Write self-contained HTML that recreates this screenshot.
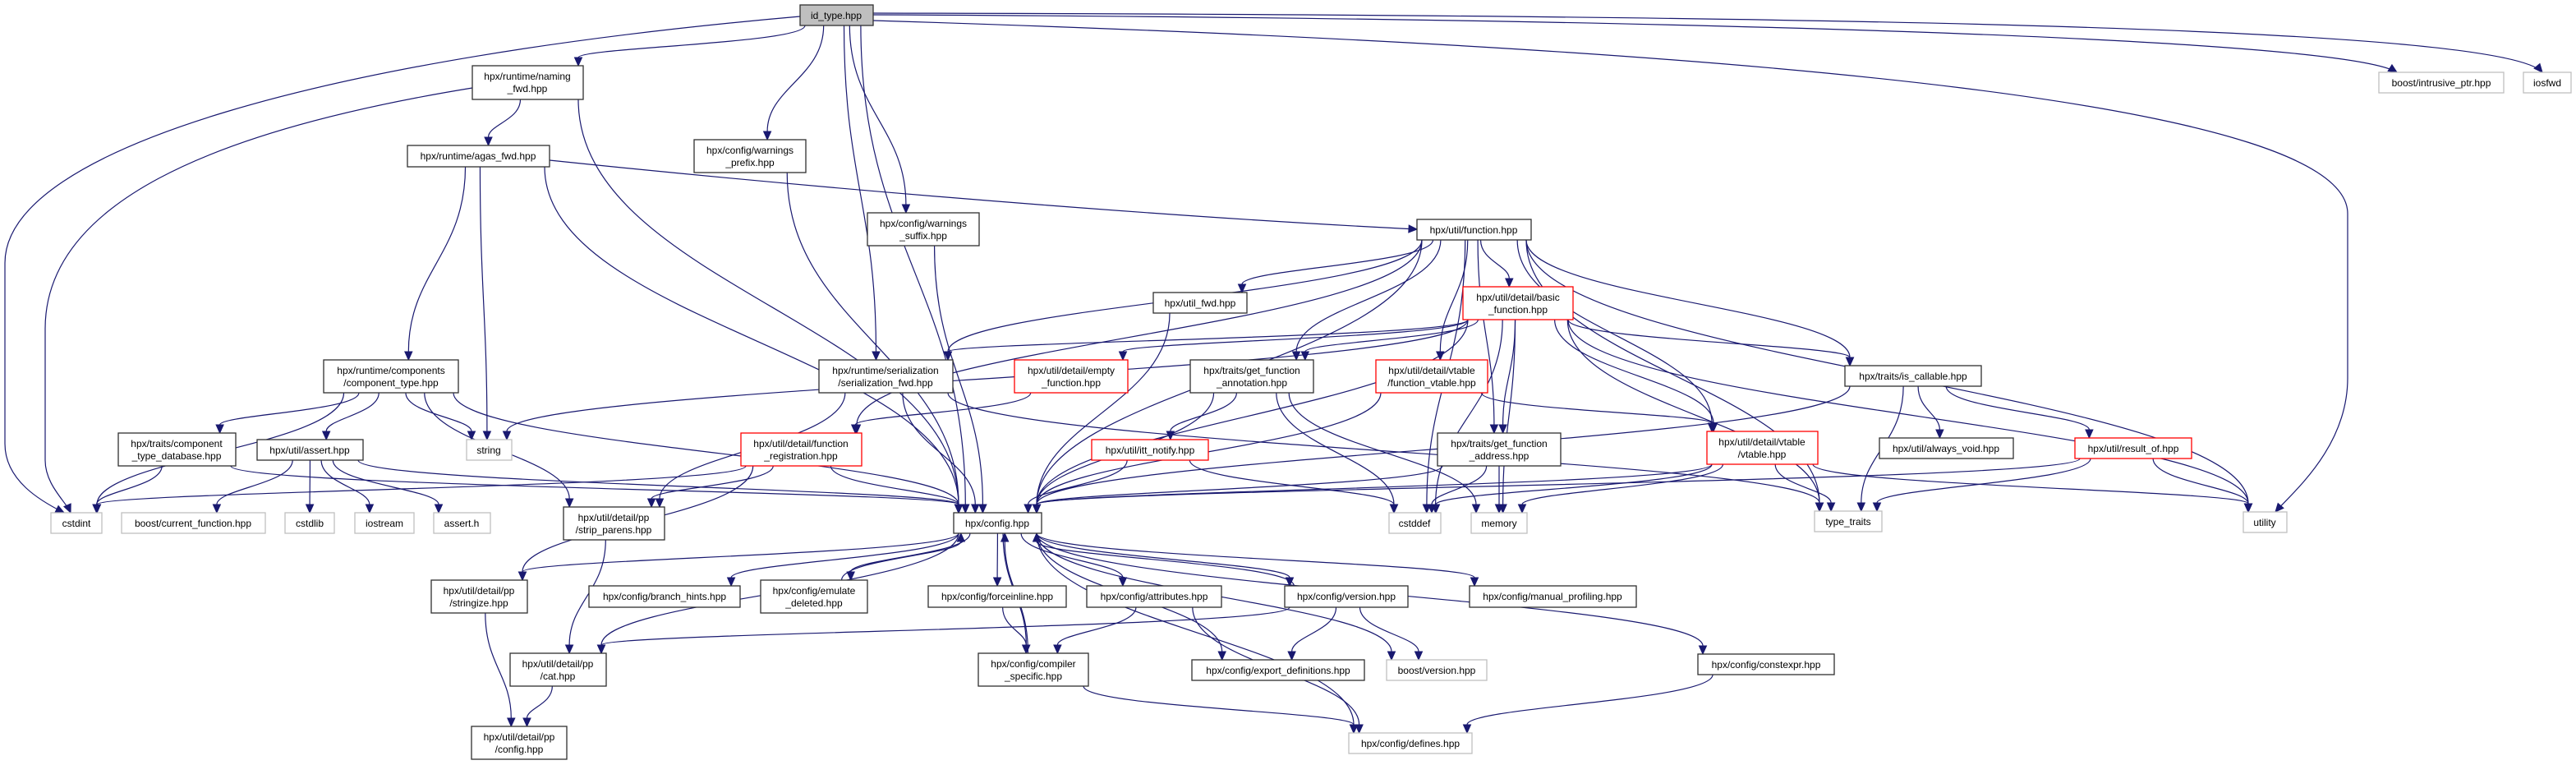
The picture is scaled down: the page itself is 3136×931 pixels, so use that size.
<!DOCTYPE html>
<html><head><meta charset="utf-8"><style>
html,body{margin:0;padding:0;background:#fff;width:3136px;height:931px;overflow:hidden}
svg{position:absolute;left:0;top:0}
text{font-family:"Liberation Sans",Arial,sans-serif;font-size:12px;fill:#000;text-anchor:middle}
rect{stroke-width:1.3}
.n{fill:#fff;stroke:#303030}
.r{fill:#fff;stroke:#ff0000}
.g{fill:#fff;stroke:#bfbfbf}
.s{fill:#bfbfbf;stroke:#303030}
</style></head><body>
<svg id="e" width="3136" height="931" xmlns="http://www.w3.org/2000/svg"></svg>
<svg width="3136" height="931" xmlns="http://www.w3.org/2000/svg">
<g>
<rect class="s" x="974" y="6" width="89" height="25"/><text x="1018" y="23">id_type.hpp</text>
<rect class="n" x="575" y="80" width="135" height="41"/><text x="642" y="97">hpx/runtime/naming</text><text x="642" y="112">_fwd.hpp</text>
<rect class="n" x="496" y="177" width="173" height="26"/><text x="582" y="194">hpx/runtime/agas_fwd.hpp</text>
<rect class="n" x="845" y="170" width="136" height="40"/><text x="913" y="187">hpx/config/warnings</text><text x="913" y="202">_prefix.hpp</text>
<rect class="n" x="1056" y="259" width="136" height="40"/><text x="1124" y="276">hpx/config/warnings</text><text x="1124" y="291">_suffix.hpp</text>
<rect class="n" x="1725" y="267" width="139" height="25"/><text x="1794" y="284">hpx/util/function.hpp</text>
<rect class="g" x="2896" y="88" width="152" height="25"/><text x="2972" y="105">boost/intrusive_ptr.hpp</text>
<rect class="g" x="3072" y="88" width="58" height="25"/><text x="3101" y="105">iosfwd</text>
<rect class="n" x="1404" y="356" width="114" height="25"/><text x="1461" y="373">hpx/util_fwd.hpp</text>
<rect class="r" x="1781" y="349" width="134" height="40"/><text x="1848" y="366">hpx/util/detail/basic</text><text x="1848" y="381">_function.hpp</text>
<rect class="n" x="394" y="438" width="164" height="40"/><text x="476" y="455">hpx/runtime/components</text><text x="476" y="470">/component_type.hpp</text>
<rect class="n" x="997" y="438" width="163" height="40"/><text x="1078" y="455">hpx/runtime/serialization</text><text x="1078" y="470">/serialization_fwd.hpp</text>
<rect class="r" x="1235" y="438" width="138" height="40"/><text x="1304" y="455">hpx/util/detail/empty</text><text x="1304" y="470">_function.hpp</text>
<rect class="n" x="1449" y="438" width="150" height="40"/><text x="1524" y="455">hpx/traits/get_function</text><text x="1524" y="470">_annotation.hpp</text>
<rect class="r" x="1675" y="438" width="136" height="40"/><text x="1743" y="455">hpx/util/detail/vtable</text><text x="1743" y="470">/function_vtable.hpp</text>
<rect class="n" x="2246" y="445" width="166" height="25"/><text x="2329" y="462">hpx/traits/is_callable.hpp</text>
<rect class="n" x="144" y="527" width="143" height="40"/><text x="215" y="544">hpx/traits/component</text><text x="215" y="559">_type_database.hpp</text>
<rect class="n" x="313" y="535" width="129" height="25"/><text x="377" y="552">hpx/util/assert.hpp</text>
<rect class="g" x="568" y="535" width="55" height="25"/><text x="595" y="552">string</text>
<rect class="r" x="902" y="527" width="147" height="40"/><text x="975" y="544">hpx/util/detail/function</text><text x="975" y="559">_registration.hpp</text>
<rect class="r" x="1329" y="535" width="142" height="25"/><text x="1400" y="552">hpx/util/itt_notify.hpp</text>
<rect class="n" x="1750" y="527" width="150" height="40"/><text x="1825" y="544">hpx/traits/get_function</text><text x="1825" y="559">_address.hpp</text>
<rect class="r" x="2078" y="525" width="135" height="40"/><text x="2145" y="542">hpx/util/detail/vtable</text><text x="2145" y="557">/vtable.hpp</text>
<rect class="n" x="2288" y="533" width="163" height="25"/><text x="2369" y="550">hpx/util/always_void.hpp</text>
<rect class="r" x="2526" y="533" width="142" height="25"/><text x="2597" y="550">hpx/util/result_of.hpp</text>
<rect class="g" x="62" y="624" width="62" height="25"/><text x="93" y="641">cstdint</text>
<rect class="g" x="148" y="624" width="175" height="25"/><text x="235" y="641">boost/current_function.hpp</text>
<rect class="g" x="347" y="624" width="60" height="25"/><text x="377" y="641">cstdlib</text>
<rect class="g" x="432" y="624" width="72" height="25"/><text x="468" y="641">iostream</text>
<rect class="g" x="528" y="624" width="69" height="25"/><text x="562" y="641">assert.h</text>
<rect class="n" x="686" y="617" width="123" height="40"/><text x="747" y="634">hpx/util/detail/pp</text><text x="747" y="649">/strip_parens.hpp</text>
<rect class="n" x="1161" y="624" width="107" height="25"/><text x="1214" y="641">hpx/config.hpp</text>
<rect class="g" x="1691" y="624" width="63" height="25"/><text x="1722" y="641">cstddef</text>
<rect class="g" x="1791" y="624" width="68" height="25"/><text x="1825" y="641">memory</text>
<rect class="g" x="2209" y="622" width="82" height="25"/><text x="2250" y="639">type_traits</text>
<rect class="g" x="2731" y="623" width="53" height="25"/><text x="2757" y="640">utility</text>
<rect class="n" x="525" y="706" width="117" height="40"/><text x="583" y="723">hpx/util/detail/pp</text><text x="583" y="738">/stringize.hpp</text>
<rect class="n" x="717" y="713" width="184" height="26"/><text x="809" y="730">hpx/config/branch_hints.hpp</text>
<rect class="n" x="926" y="706" width="130" height="40"/><text x="991" y="723">hpx/config/emulate</text><text x="991" y="738">_deleted.hpp</text>
<rect class="n" x="1130" y="713" width="168" height="26"/><text x="1214" y="730">hpx/config/forceinline.hpp</text>
<rect class="n" x="1323" y="713" width="164" height="26"/><text x="1405" y="730">hpx/config/attributes.hpp</text>
<rect class="n" x="1564" y="713" width="150" height="26"/><text x="1639" y="730">hpx/config/version.hpp</text>
<rect class="n" x="1789" y="713" width="203" height="26"/><text x="1890" y="730">hpx/config/manual_profiling.hpp</text>
<rect class="n" x="2067" y="796" width="166" height="25"/><text x="2150" y="813">hpx/config/constexpr.hpp</text>
<rect class="n" x="621" y="795" width="117" height="40"/><text x="679" y="812">hpx/util/detail/pp</text><text x="679" y="827">/cat.hpp</text>
<rect class="n" x="1191" y="795" width="134" height="40"/><text x="1258" y="812">hpx/config/compiler</text><text x="1258" y="827">_specific.hpp</text>
<rect class="n" x="1451" y="803" width="210" height="25"/><text x="1556" y="820">hpx/config/export_definitions.hpp</text>
<rect class="g" x="1688" y="803" width="122" height="25"/><text x="1749" y="820">boost/version.hpp</text>
<rect class="n" x="574" y="884" width="116" height="40"/><text x="632" y="901">hpx/util/detail/pp</text><text x="632" y="916">/config.hpp</text>
<rect class="g" x="1642" y="892" width="150" height="25"/><text x="1717" y="909">hpx/config/defines.hpp</text>
</g>
</svg>
<script>
var N={
id:[974,6,1063,31],nf:[575,80,710,121],ag:[496,177,669,203],wp:[845,170,981,210],ws:[1056,259,1192,299],
fn:[1725,267,1864,292],ip:[2896,88,3048,113],io:[3072,88,3130,113],uf:[1404,356,1518,381],bf:[1781,349,1915,389],
ct:[394,438,558,478],sf:[997,438,1160,478],ef:[1235,438,1373,478],ga:[1449,438,1599,478],fv:[1675,438,1811,478],
ic:[2246,445,2412,470],td:[144,527,287,567],ah:[313,535,442,560],st:[568,535,623,560],fr:[902,527,1049,567],
it:[1329,535,1471,560],gd:[1750,527,1900,567],vt:[2078,525,2213,565],av:[2288,533,2451,558],ro:[2526,533,2668,558],
ci:[62,624,124,649],cf:[148,624,323,649],cl:[347,624,407,649],ios:[432,624,504,649],as:[528,624,597,649],
sp:[686,617,809,657],cfg:[1161,624,1268,649],cd:[1691,624,1754,649],me:[1791,624,1859,649],tt:[2209,622,2291,647],
ut:[2731,623,2784,648],sz:[525,706,642,746],bh:[717,713,901,739],em:[926,706,1056,746],fi:[1130,713,1298,739],
at:[1323,713,1487,739],ve:[1564,713,1714,739],mp:[1789,713,1992,739],ce:[2067,796,2233,821],cat:[621,795,738,835],
cs:[1191,795,1325,835],ed:[1451,803,1661,828],bv:[1688,803,1810,828],pc:[574,884,690,924],de:[1642,892,1792,917]};
var E=[
['id','nf'],['id','cfg'],['id','wp'],['id','ws'],['id','sf'],
['nf','ag'],['nf','cfg'],['ag','ct'],['ag','st'],['ag','cfg'],['wp','cfg'],['ws','cfg'],
['fn','sf'],['fn','uf'],['fn','bf'],['fn','ga'],['fn','fv'],['fn','ic'],['fn','fr'],['fn','cfg'],['fn','ut'],['fn','tt'],['fn','cd'],['fn','vt'],['fn','gd'],
['bf','sf'],['bf','ef'],['bf','ga'],['bf','st'],['bf','cfg'],['bf','cd'],['bf','me'],['bf','vt'],['bf','ic'],['bf','tt'],['bf','ut'],['bf','gd'],
['uf','cfg'],['ct','ci'],['ct','td'],['ct','ah'],['ct','st'],['ct','cfg'],['ct','sp'],
['sf','cfg'],['sf','sp'],['sf','tt'],['ef','fr'],['ga','it'],['ga','cd'],['ga','me'],['ga','cfg'],['fv','vt'],['fv','cfg'],
['ic','av'],['ic','ro'],['ic','tt'],['ic','cfg'],['td','ci'],['td','cfg'],['ah','cf'],['ah','cl'],['ah','ios'],['ah','as'],['ah','cfg'],
['fr','sp'],['fr','sz'],['fr','cfg'],['fr','ci'],['it','cfg'],['it','cd'],['gd','cfg'],['gd','cd'],['gd','me'],
['vt','cfg'],['vt','cd'],['vt','me'],['vt','tt'],['vt','ut'],['ro','cfg'],['ro','tt'],['ro','ut'],['sp','cat'],
['cfg','sz'],['cfg','cat'],['cfg','bh'],['cfg','em'],['cfg','fi'],['cfg','at'],['cfg','ve'],['cfg','mp'],['cfg','ed'],['cfg','bv'],['cfg','cs'],['cfg','de'],['cfg','ce'],
['em','cfg'],['ve','cfg'],['cs','cfg'],['sz','pc'],['cat','pc'],['fi','cs'],['at','cs'],['at','de'],['ve','cat'],['ve','ed'],['ve','bv'],['cs','de'],['ce','de']];
var S=[
['M974,20 C400,70 6,180 6,320 L6,540 C6,585 50,610 78,624',50,610],
['M575,107 C250,160 55,250 55,400 L55,560 C55,590 80,610 86,624',80,610],
['M1063,25 C2200,60 2858,130 2858,260 L2858,460 C2858,545 2790,600 2770,623',2790,600],
['M1063,18 C2000,22 2850,45 2918,88',2850,45],
['M1063,16 C2300,18 3050,35 3095,88',3050,35],
['M669,195 C1100,240 1500,268 1725,279',1500,268]];
var s='',C='#191970';
function cl(v,a,b){return Math.max(a,Math.min(b,v));}
function arrow(tx,ty,c2x,c2y){
 var dx=tx-c2x,dy=ty-c2y,L=Math.sqrt(dx*dx+dy*dy)||1;dx/=L;dy/=L;
 var ex=tx-dx*10,ey=ty-dy*10,px=-dy*4.5,py=dx*4.5;
 return '<polygon points="'+tx+','+ty+' '+(ex+px)+','+(ey+py)+' '+(ex-px)+','+(ey-py)+'" fill="'+C+'" stroke="'+C+'"/>';
}
E.forEach(function(e){
 var a=N[e[0]],b=N[e[1]];
 var acx=(a[0]+a[2])/2,acy=(a[1]+a[3])/2,bcx=(b[0]+b[2])/2,bcy=(b[1]+b[3])/2;
 var sx,sy,tx,ty,c1x,c1y,c2x,c2y;
 if(bcy>acy+30){
  sx=cl(acx+(bcx-acx)*0.15,a[0]+6,a[2]-6);sy=a[3];
  tx=cl(bcx+(acx-bcx)*0.2,b[0]+6,b[2]-6);ty=b[1];
  var d=ty-sy;c1x=sx;c1y=sy+d*0.45;c2x=tx;c2y=ty-d*0.45;
 }else if(bcy<acy-30){
  sx=cl(acx+(bcx-acx)*0.15,a[0]+6,a[2]-6);sy=a[1];
  tx=cl(bcx+(acx-bcx)*0.2,b[0]+6,b[2]-6);ty=b[3];
  var d=sy-ty;c1x=sx;c1y=sy-d*0.45;c2x=tx;c2y=ty+d*0.45;
 }else{
  sy=acy;ty=bcy;
  if(bcx>acx){sx=a[2];tx=b[0];}else{sx=a[0];tx=b[2];}
  var d=tx-sx;c1x=sx+d*0.4;c1y=sy;c2x=tx-d*0.4;c2y=ty;
 }
 var dx=tx-c2x,dy=ty-c2y,L=Math.sqrt(dx*dx+dy*dy)||1;dx/=L;dy/=L;
 var ex=tx-dx*10,ey=ty-dy*10;
 s+='<path d="M'+sx+','+sy+' C'+c1x+','+c1y+' '+c2x+','+c2y+' '+ex+','+ey+'" fill="none" stroke="'+C+'" stroke-width="1.2"/>';
 s+=arrow(tx,ty,c2x,c2y);
});
S.forEach(function(p){
 var m=p[0].match(/(-?[\d.]+),(-?[\d.]+)\s*$/);var tx=+m[1],ty=+m[2];
 s+='<path d="'+p[0]+'" fill="none" stroke="'+C+'" stroke-width="1.2"/>';
 s+=arrow(tx,ty,p[1],p[2]);
});
document.getElementById('e').innerHTML=s;
</script>
</body></html>
